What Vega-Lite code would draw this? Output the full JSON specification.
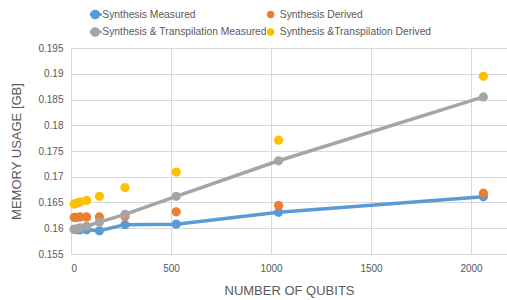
{
  "$schema": "https://vega.github.io/schema/vega-lite/v6.json",
  "width": 436,
  "height": 206,
  "autosize": "none",
  "padding": {"left": 71, "top": 48, "right": 0, "bottom": 46},
  "config": {
    "font": "Liberation Sans",
    "view": {"stroke": null},
    "axis": {"labelColor": "#595959", "titleColor": "#595959", "labelFontSize": 10, "titleFontSize": 13, "titleFontWeight": "normal", "gridColor": "#d9d9d9", "ticks": false, "domain": false},
    "legend": {"labelColor": "#595959", "labelFontSize": 10.3, "labelLimit": 300}
  },
  "data": {"values": [
    {"q": 16, "series": "Synthesis Measured", "mem": 0.1598},
    {"q": 30, "series": "Synthesis Measured", "mem": 0.1597},
    {"q": 46, "series": "Synthesis Measured", "mem": 0.1597},
    {"q": 78, "series": "Synthesis Measured", "mem": 0.1597},
    {"q": 142, "series": "Synthesis Measured", "mem": 0.1595},
    {"q": 270, "series": "Synthesis Measured", "mem": 0.1607},
    {"q": 526, "series": "Synthesis Measured", "mem": 0.1608},
    {"q": 1038, "series": "Synthesis Measured", "mem": 0.1631},
    {"q": 2062, "series": "Synthesis Measured", "mem": 0.1661},
    {"q": 16, "series": "Synthesis Derived", "mem": 0.1621},
    {"q": 30, "series": "Synthesis Derived", "mem": 0.1621},
    {"q": 46, "series": "Synthesis Derived", "mem": 0.1622},
    {"q": 78, "series": "Synthesis Derived", "mem": 0.1622},
    {"q": 142, "series": "Synthesis Derived", "mem": 0.1622},
    {"q": 270, "series": "Synthesis Derived", "mem": 0.1623},
    {"q": 526, "series": "Synthesis Derived", "mem": 0.1632},
    {"q": 1038, "series": "Synthesis Derived", "mem": 0.1644},
    {"q": 2062, "series": "Synthesis Derived", "mem": 0.1668},
    {"q": 16, "series": "Synthesis & Transpilation Measured", "mem": 0.1598},
    {"q": 30, "series": "Synthesis & Transpilation Measured", "mem": 0.1599},
    {"q": 46, "series": "Synthesis & Transpilation Measured", "mem": 0.1601},
    {"q": 78, "series": "Synthesis & Transpilation Measured", "mem": 0.1604},
    {"q": 142, "series": "Synthesis & Transpilation Measured", "mem": 0.1612},
    {"q": 270, "series": "Synthesis & Transpilation Measured", "mem": 0.1627},
    {"q": 526, "series": "Synthesis & Transpilation Measured", "mem": 0.1662},
    {"q": 1038, "series": "Synthesis & Transpilation Measured", "mem": 0.1731},
    {"q": 2062, "series": "Synthesis & Transpilation Measured", "mem": 0.1855},
    {"q": 16, "series": "Synthesis &Transpilation Derived", "mem": 0.1647},
    {"q": 30, "series": "Synthesis &Transpilation Derived", "mem": 0.1649},
    {"q": 46, "series": "Synthesis &Transpilation Derived", "mem": 0.1651},
    {"q": 78, "series": "Synthesis &Transpilation Derived", "mem": 0.1654},
    {"q": 142, "series": "Synthesis &Transpilation Derived", "mem": 0.1662},
    {"q": 270, "series": "Synthesis &Transpilation Derived", "mem": 0.1679},
    {"q": 526, "series": "Synthesis &Transpilation Derived", "mem": 0.1709},
    {"q": 1038, "series": "Synthesis &Transpilation Derived", "mem": 0.1771},
    {"q": 2062, "series": "Synthesis &Transpilation Derived", "mem": 0.1895}
  ]},
  "encoding": {
    "x": {"field": "q", "type": "quantitative", "scale": {"domain": [0, 2180], "nice": false, "zero": false},
      "axis": {"values": [0, 500, 1000, 1500, 2000], "format": "d", "title": "NUMBER OF QUBITS", "labelPadding": 9, "titlePadding": 11, "domain": true, "domainColor": "#d9d9d9"}},
    "y": {"field": "mem", "type": "quantitative", "scale": {"domain": [0.155, 0.195], "nice": false, "zero": false},
      "axis": {"values": [0.155, 0.16, 0.165, 0.17, 0.175, 0.18, 0.185, 0.19, 0.195], "format": ".3~f", "title": "MEMORY USAGE [GB]", "labelPadding": 8, "titlePadding": 14}}
  },
  "layer": [
    {
      "transform": [{"filter": "datum.series == 'Synthesis Measured'"}],
      "mark": {"type": "line", "strokeWidth": 3.5, "point": {"filled": true, "size": 85}},
      "encoding": {"color": {"field": "series", "type": "nominal",
        "scale": {"domain": ["Synthesis Measured", "Synthesis & Transpilation Measured"], "range": ["#5B9BD5", "#A5A5A5"]},
        "legend": {"title": null, "orient": "none", "legendX": 19, "legendY": -39.5, "direction": "vertical", "symbolType": "M-2.2,0 L2.2,0 M1.1,0 A1.1,1.1 0 1,1 -1.1,0 A1.1,1.1 0 1,1 1.1,0 Z", "symbolSize": 36, "symbolStrokeWidth": 3, "labelOffset": 2, "rowPadding": 5.5, "clipHeight": 12,
          "encode": {"symbols": {"update": {"fill": {"scale": "color", "field": "value"}, "stroke": {"scale": "color", "field": "value"}}}}}}}
    },
    {
      "transform": [{"filter": "datum.series == 'Synthesis Derived'"}],
      "mark": {"type": "point", "filled": true, "size": 85, "opacity": 1},
      "encoding": {"fill": {"field": "series", "type": "nominal",
        "scale": {"domain": ["Synthesis Derived", "Synthesis &Transpilation Derived"], "range": ["#ED7D31", "#FFC000"]},
        "legend": {"title": null, "orient": "none", "legendX": 194.5, "legendY": -39.5, "direction": "vertical", "symbolType": "circle", "symbolSize": 55, "labelOffset": 4, "rowPadding": 5.5, "clipHeight": 12}}}
    },
    {
      "transform": [{"filter": "datum.series == 'Synthesis & Transpilation Measured'"}],
      "mark": {"type": "line", "strokeWidth": 3.5, "point": {"filled": true, "size": 85}},
      "encoding": {"color": {"field": "series", "type": "nominal"}}
    },
    {
      "transform": [{"filter": "datum.series == 'Synthesis &Transpilation Derived'"}],
      "mark": {"type": "point", "filled": true, "size": 85, "opacity": 1},
      "encoding": {"fill": {"field": "series", "type": "nominal"}}
    }
  ]
}
